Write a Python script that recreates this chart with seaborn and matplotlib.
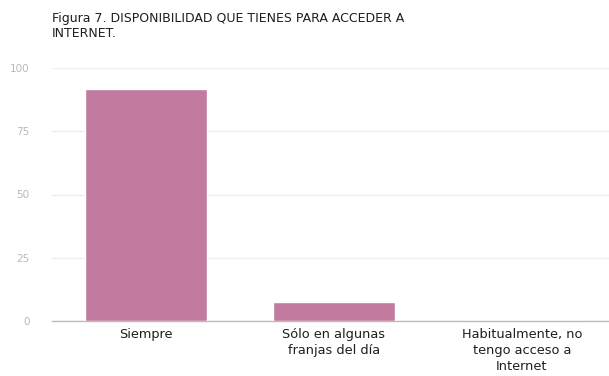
import matplotlib
matplotlib.use("Agg")
import matplotlib.pyplot as plt
import seaborn as sns
import pandas as pd

categories = ["Siempre", "Sólo en algunas\nfranjas del día", "Habitualmente, no\ntengo acceso a\nInternet"]
values = [91.7, 7.5, 0.0]
y_ticks = [0, 25, 50, 75, 100]

sns.set_theme(style="white")
plt.rcParams["font.family"] = ["DejaVu Sans"]

df = pd.DataFrame({"categoria": categories, "valor": values})

fig = plt.figure(figsize=(6.09, 3.76), dpi=100)
ax = fig.add_axes([52 / 609, 55 / 376, 557 / 609, 253 / 376])

sns.barplot(data=df, x="categoria", y="valor", color="#c27a9f", saturation=1,
            width=0.65, ax=ax, zorder=3)

ax.set_ylim(0, 100)
ax.set_xlim(-0.5, 2.463)
ax.set_yticks(y_ticks)
ax.set_yticklabels([str(t) for t in y_ticks], fontsize=7.5, color="#b8b8b8")
ax.tick_params(axis="y", length=0, pad=16)
ax.tick_params(axis="x", length=0, pad=5)
for lbl in ax.get_xticklabels():
    lbl.set_fontsize(9.3)
    lbl.set_color("#1e1e1e")
    lbl.set_linespacing(1.3)
    lbl.set_va("top")

ax.yaxis.grid(True, color="#eeeeee", linewidth=1, zorder=0)
ax.set_axisbelow(True)
for s in ["top", "right", "left"]:
    ax.spines[s].set_visible(False)
ax.spines["bottom"].set_color("#bbbbbb")
ax.spines["bottom"].set_linewidth(1)
ax.set_xlabel("")
ax.set_ylabel("")

fig.text(52 / 609, 1 - 12 / 376, "Figura 7. DISPONIBILIDAD QUE TIENES PARA ACCEDER A\nINTERNET.",
         fontsize=9, color="#1e1e1e", va="top", ha="left", linespacing=1.2)

fig.savefig("out.png", dpi=100)
